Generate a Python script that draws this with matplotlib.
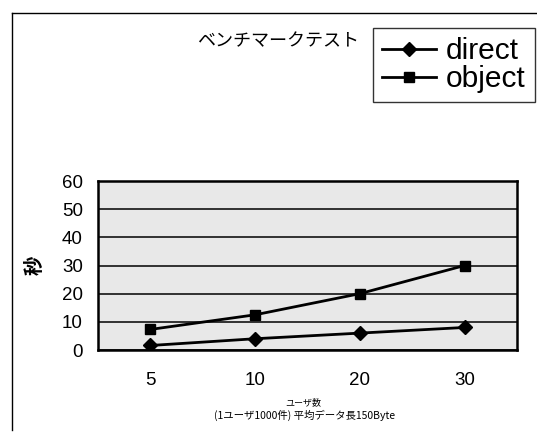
import matplotlib.pyplot as plt
from matplotlib.lines import Line2D

# データ
users = ['5', '10', '20', '30']
direct = [1.6, 4.0, 6.0, 8.0]
obj = [7.3, 12.5, 20.0, 30.0]
yticks = [0, 10, 20, 30, 40, 50, 60]

plt.rcParams['font.family'] = ['Liberation Sans', 'Noto Sans CJK JP', 'DejaVu Sans']
jp = ['Noto Sans CJK JP', 'DejaVu Sans']

fig = plt.figure(figsize=(5.37, 4.44), dpi=100)
ax = fig.add_axes([98 / 537, 1 - 350 / 444, 419 / 537, 169 / 444])
ax.set_facecolor('#e8e8e8')

x = range(len(users))
ax.plot(x, direct, color='black', lw=2, marker='D', ms=7, label='direct')
ax.plot(x, obj, color='black', lw=2, marker='s', ms=7.5, label='object')

ax.set_xlim(-0.5, len(users) - 0.5)
ax.set_ylim(0, 60)
ax.set_xticks(list(x))
ax.set_xticklabels(users)
ax.set_yticks(yticks)
ax.tick_params(axis='both', length=0, labelsize=13.5)
ax.tick_params(axis='x', pad=16)
ax.tick_params(axis='y', pad=11)
ax.grid(axis='y', color='black', lw=1.1)
ax.set_axisbelow(True)
for s in ax.spines.values():
    s.set_linewidth(1.8)
    s.set_color('black')

ax.set_ylabel('秒', family=jp, fontsize=14, fontweight='bold', labelpad=12)

fig.text(303 / 537, 1 - 403 / 444, 'ユーザ数', family=jp, fontsize=6.5,
         ha='center', va='center')
fig.text(305 / 537, 1 - 415 / 444, '(1ユーザ1000件) 平均データ長150Byte', family=jp,
         fontsize=7.5, ha='center', va='center')

fig.text(197 / 537, 1 - 41 / 444, 'ベンチマークテスト', family=jp, fontsize=13,
         ha='left', va='center')

leg = fig.legend(loc='upper left', bbox_to_anchor=(373 / 537, 1 - 28 / 444),
                 fontsize=21.5, frameon=True, fancybox=False, edgecolor='black',
                 handlelength=1.8, handletextpad=0.35, borderpad=0.3,
                 labelspacing=0.0, borderaxespad=0)
leg.get_frame().set_linewidth(1.0)

# 外枠
fig.add_artist(Line2D([12 / 537, 1], [1 - 13 / 444, 1 - 13 / 444], color='black', lw=1))
fig.add_artist(Line2D([12 / 537, 12 / 537], [1 - 430 / 444, 1 - 13 / 444], color='black', lw=1))

fig.savefig('out.png', dpi=100)
